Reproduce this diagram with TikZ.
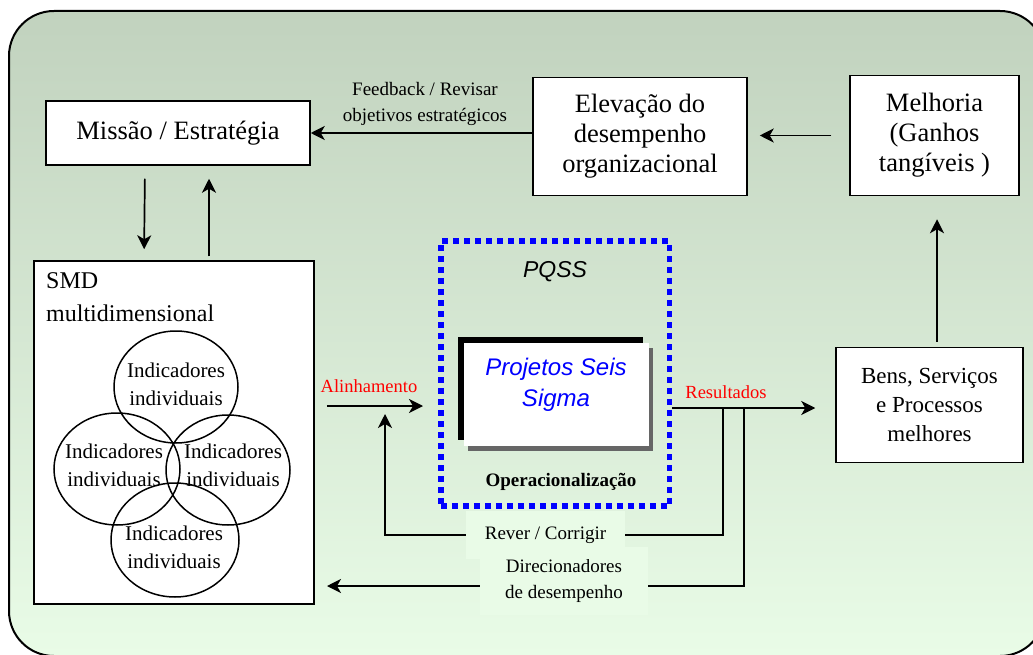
\documentclass[tikz,border=0pt]{standalone}
\usepackage{fontspec}
\setmainfont{Liberation Serif}
\newfontfamily\arialish{Liberation Sans}
\usetikzlibrary{arrows.meta,shadows}

\definecolor{bgtop}{HTML}{C1D2BE}
\definecolor{bgbot}{HTML}{E9FCE7}
\definecolor{lblbg}{HTML}{E9FBE7}
\definecolor{shadowgray}{HTML}{666666}

\begin{document}
\begin{tikzpicture}[x=1pt,y=-1pt,
  box/.style={draw, line width=1.5pt, fill=white, align=center, inner sep=0pt},
  txtbig/.style={font=\fontsize{26.5}{30}\selectfont},
  txtmid/.style={font=\fontsize{23}{29}\selectfont},
  txtind/.style={font=\fontsize{21}{28}\selectfont, align=center, inner sep=0pt},
  txtsmall/.style={font=\fontsize{19}{26}\selectfont, align=center},
  redlbl/.style={text=red, font=\fontsize{18.5}{22}\selectfont},
  lblbox/.style={fill=lblbg, inner sep=0pt, align=center, font=\fontsize{19}{26}\selectfont},
  arr/.style={-{Stealth[length=14pt,width=14pt,inset=4pt]}, line width=1.7pt},
  ring/.style={line width=1.5pt}
]
\useasboundingbox (0,0) rectangle (1033,655);

% rounded background panel with a vertical gradient
\begin{scope}
  \clip (0,0) rectangle (1033,655);
  \shade[top color=bgtop, bottom color=bgbot, rounded corners=45pt] (9,11) rectangle (1045,656);
  \draw[line width=2pt, rounded corners=45pt] (9,11) rectangle (1045,656);
\end{scope}

% top row
\node[box, txtbig, minimum width=264pt, minimum height=64pt] (mis) at (178,133) {Missão / Estratégia};
\node[box, txtbig, minimum width=214pt, minimum height=118pt] (elev) at (640,136.5) {Elevação do\\desempenho\\organizacional};
\node[box, txtbig, minimum width=169pt, minimum height=120pt] (mel) at (934.5,135.5) {Melhoria\\(Ganhos\\tangíveis )};

% results box
\node[box, txtmid, minimum width=187pt, minimum height=115pt] (bens) at (929.5,405) {Bens, Serviços\\e Processos\\melhores};

% measurement system box
\node[box, minimum width=280pt, minimum height=343pt] (smd) at (174,432.5) {};
\node[anchor=base west, inner sep=0pt, font=\fontsize{24}{30}\selectfont] (smdA) at (46,288) {SMD};
\node[anchor=base west, inner sep=0pt, font=\fontsize{24}{30}\selectfont] (smdB) at (46,321) {multidimensional};

% overlapping indicator rings
\draw[ring] (176,387) ellipse [x radius=62pt, y radius=56pt];
\draw[ring] (117,469) ellipse [x radius=63pt, y radius=56pt];
\draw[ring] (228,470) ellipse [x radius=62pt, y radius=55pt];
\draw[ring] (175,540) ellipse [x radius=64pt, y radius=57pt];
\node[txtind] (indA) at (176,384) {Indicadores\\individuais};
\node[txtind] (indB) at (114,465) {Indicadores\\individuais};
\node[txtind] (indC) at (233,465) {Indicadores\\individuais};
\node[txtind] (indD) at (174,547) {Indicadores\\individuais};

% PQSS frame
\node[draw=blue, line width=5.5pt, dash pattern=on 6pt off 5pt, inner sep=0pt,
      minimum width=228.5pt, minimum height=265pt] (pq) at (555,373.5) {};
\node[font=\arialish\itshape\fontsize{23}{28}\selectfont] (pqtxt) at (555,272) {PQSS};
\node[fill=white, inner sep=0pt, minimum width=185pt, minimum height=103pt,
      general shadow={fill=black, shadow xshift=-6pt, shadow yshift=6pt},
      general shadow={fill=shadowgray, shadow xshift=4pt, shadow yshift=-5pt}] (psm) at (556.5,394.5) {};
\node[text=blue, align=center, font=\arialish\itshape\fontsize{24}{31}\selectfont] (psmtxt) at (556,385) {Projetos Seis\\Sigma};
\node[font=\bfseries\fontsize{19}{23}\selectfont] (oper) at (561,482) {Operacionalização};

% connectors
\draw[arr] (elev.west |- mis.east) -- (mis.east);
\node[txtsmall] (fb) at (425,104) {Feedback / Revisar\\objetivos estratégicos};
\draw[arr, shorten <=18pt, shorten >=12pt] (mel.west) -- (elev.east |- mel.west);
\draw[arr, shorten <=13pt, shorten >=11pt] ([xshift=-33pt]mis.south) -- ([xshift=-30pt]smd.north);
\draw[arr, shorten <=4pt, shorten >=13pt] ([xshift=35pt]smd.north) -- ([xshift=31pt]mis.south);
\draw[arr, shorten <=5pt, shorten >=23pt] ([xshift=7.5pt]bens.north) -- ([xshift=2.5pt]mel.south);

\draw[arr, shorten <=12pt, shorten >=15pt] (smd.east |- 0,406) -- (pq.west |- 0,406);
\node[redlbl] (alin) at (369,386) {Alinhamento};
\draw[arr, shorten >=20pt] (pq.east |- 0,408) -- (bens.west |- 0,408);
\node[redlbl] (res) at (726,392) {Resultados};

% feedback loops from the results line
\coordinate (rv1) at (723,408);
\coordinate (rv2) at (385,535);
\coordinate (rv3) at (385,414);
\draw[arr] (rv1) |- (rv2) -- (rv3);
\coordinate (dr1) at (744,408);
\coordinate (dr2) at (327,586);
\draw[arr] (dr1) |- (dr2);
\node[lblbox, minimum width=168pt, minimum height=68pt] (dir) at (564,581) {Direcionadores\\de desempenho};
\node[lblbox, minimum width=159pt, minimum height=48pt] (rev) at (545.5,535) {Rever / Corrigir};
\end{tikzpicture}
\end{document}
